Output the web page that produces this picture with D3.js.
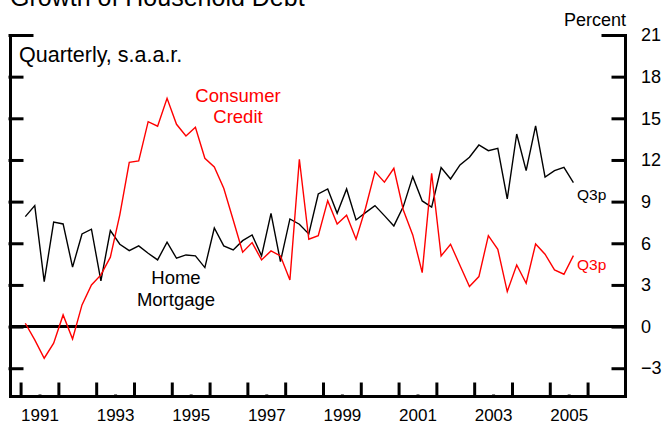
<!DOCTYPE html>
<html>
<head>
<meta charset="utf-8">
<script src="https://cdn.jsdelivr.net/npm/d3@7"></script>
<style>
  body { margin: 0; background: #fff; }
  svg { display: block; font-family: "Liberation Sans", Arial, sans-serif; }
  .axis path, .axis line { stroke: #000; stroke-width: 3; stroke-linecap: square; }
  .axis text { fill: #000; font-family: "Liberation Sans", Arial, sans-serif; }
</style>
</head>
<body>
<div id="chart"></div>
<script>
// quarterly, 1991:Q1 .. 2005:Q3
const startYear = 1991;
const homeMortgage = [
  7.92, 8.71, 3.24, 7.52, 7.39, 4.28, 6.67, 7.01, 3.29, 6.91,
  5.93, 5.47, 5.81, 5.28, 4.8, 6.08, 4.92, 5.16, 5.09, 4.25,
  7.1, 5.81, 5.52, 6.19, 6.6, 5.09, 8.16, 4.68, 7.75, 7.37,
  6.67, 9.55, 9.91, 8.16, 9.91, 7.68, 8.21, 8.71, 7.99, 7.25,
  8.64, 10.8, 9.05, 8.6, 11.45, 10.63, 11.64, 12.2, 13.08, 12.67,
  12.84, 9.19, 13.87, 11.23, 14.45, 10.76, 11.23, 11.47, 10.37
];
const consumerCredit = [
  0.24, -0.96, -2.28, -1.2, 0.84, -0.89, 1.56, 3.0, 3.72, 5.0,
  8.05, 11.83, 11.93, 14.76, 14.43, 16.44, 14.57, 13.73, 14.36, 12.12,
  11.5, 9.96, 7.68, 5.36, 6.05, 4.8, 5.45, 5.09, 3.36, 12.05,
  6.29, 6.55, 9.07, 7.39, 8.02, 6.29, 8.52, 11.16, 10.4, 11.4,
  8.4, 6.6, 3.89, 11.04, 5.09, 5.93, 4.4, 2.88, 3.6, 6.55,
  5.57, 2.52, 4.44, 3.12, 5.95, 5.21, 4.08, 3.77, 5.11
];
const yTicks = [21, 18, 15, 12, 9, 6, 3, 0, -3];
const yearTicks = d3.range(1991, 2007);
const yearLabels = [1991, 1993, 1995, 1997, 1999, 2001, 2003, 2005];

const width = 662;
const height = 426;

const svg = d3
  .select("#chart")
  .append("svg")
  .attr("width", width)
  .attr("height", height);

const x = d3.scaleLinear().domain([1990.72, 2006.99]).range([10, 625]);
const y = d3.scaleLinear().domain([-5, 21]).range([396, 35]);

const quarterDate = (i) => startYear + (i + 0.5) / 4;

// title, mostly cut off at the top
svg
  .append("text")
  .attr("x", 10)
  .attr("y", 6)
  .style("font-size", "25px")
  .text("Growth of Household Debt");

svg
  .append("text")
  .attr("x", 626)
  .attr("y", 26)
  .style("text-anchor", "end")
  .style("font-size", "18px")
  .text("Percent");

// left axis: ticks only
const left = svg
  .append("g")
  .attr("class", "axis")
  .attr("transform", "translate(10,0)")
  .call(d3.axisLeft(y).tickValues(yTicks).tickSizeInner(-12).tickSizeOuter(0).tickFormat(""));
left.selectAll(".tick").filter((d) => d === 21).select("line").attr("x2", 22);

// right axis: ticks inward, labels outside
const right = svg
  .append("g")
  .attr("class", "axis")
  .attr("transform", "translate(625,0)")
  .call(d3.axisRight(y).tickValues(yTicks).tickSizeInner(-12).tickSizeOuter(0).tickPadding(16));
right.selectAll(".tick").filter((d) => d === 21).select("line").attr("x2", -22);
right.selectAll("text").style("font-size", "18px");

// bottom axis: year ticks up, labels at mid-year
svg
  .append("g")
  .attr("class", "axis")
  .attr("transform", "translate(0,396)")
  .call(d3.axisBottom(x).tickValues(yearTicks).tickSizeInner(-12).tickSizeOuter(0).tickFormat(""));

const labels = svg
  .append("g")
  .attr("class", "axis")
  .attr("transform", "translate(0,396)")
  .call(d3.axisBottom(x).tickValues(yearLabels.map((d) => d + 0.5)).tickSize(0).tickPadding(13).tickFormat((d) => String(Math.floor(d))));
labels.select(".domain").remove();
labels.selectAll("text").style("font-size", "17px");

// zero line
svg
  .append("line")
  .attr("x1", x(1990.72))
  .attr("x2", x(2006.99))
  .attr("y1", y(0))
  .attr("y2", y(0))
  .attr("stroke", "#000")
  .attr("stroke-width", 3);

const line = d3
  .line()
  .x((d, i) => x(quarterDate(i)))
  .y((d) => y(d));

svg
  .append("path")
  .datum(homeMortgage)
  .attr("fill", "none")
  .attr("stroke", "#000")
  .attr("stroke-width", 1.4)
  .attr("d", line);

svg
  .append("path")
  .datum(consumerCredit)
  .attr("fill", "none")
  .attr("stroke", "#ff0000")
  .attr("stroke-width", 1.4)
  .attr("d", line);

// annotations
svg
  .append("text")
  .attr("x", 19)
  .attr("y", 62)
  .style("font-size", "21.5px")
  .text("Quarterly, s.a.a.r.");

const cc = svg
  .append("text")
  .attr("fill", "#ff0000")
  .style("font-size", "18.5px")
  .style("text-anchor", "middle");
cc.append("tspan").attr("x", 238).attr("y", 102).text("Consumer");
cc.append("tspan").attr("x", 238).attr("y", 123).text("Credit");

const hm = svg
  .append("text")
  .attr("fill", "#000")
  .style("font-size", "18.5px")
  .style("text-anchor", "middle");
hm.append("tspan").attr("x", 176).attr("y", 284).text("Home");
hm.append("tspan").attr("x", 176).attr("y", 306).text("Mortgage");

svg
  .append("text")
  .attr("x", 577)
  .attr("y", 200)
  .style("font-size", "15.5px")
  .text("Q3p");

svg
  .append("text")
  .attr("x", 577)
  .attr("y", 270)
  .attr("fill", "#ff0000")
  .style("font-size", "15.5px")
  .text("Q3p");
</script>
</body>
</html>
